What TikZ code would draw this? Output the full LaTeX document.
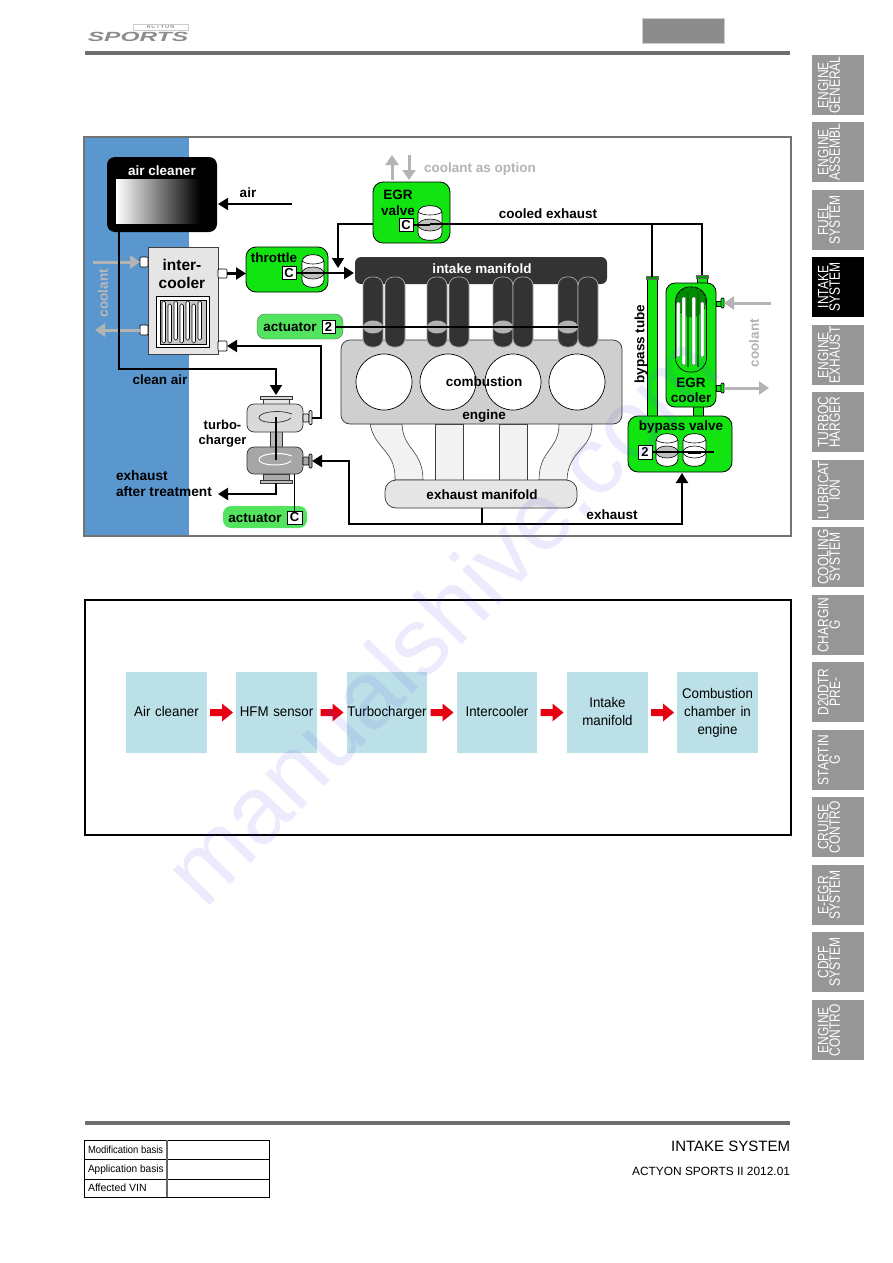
\documentclass[tikz,border=0pt]{standalone}
\usepackage{fontspec}
\setmainfont{Liberation Sans}
\newfontfamily\tabfont[FakeStretch=0.8]{Liberation Sans}
\newfontfamily\flowfont[FakeStretch=0.95]{Liberation Sans}
\usetikzlibrary{arrows.meta}
\definecolor{panelblue}{HTML}{5B97CF}
\definecolor{vivid}{HTML}{12E412}
\definecolor{softgreen}{HTML}{52E45E}
\definecolor{tabgray}{HTML}{969696}
\definecolor{flowbox}{HTML}{BBE0E7}
\definecolor{flowred}{HTML}{E60012}
\definecolor{barcol}{HTML}{6E6E6E}
\definecolor{optgray}{HTML}{B4B4B4}
\definecolor{dark}{HTML}{333333}
\definecolor{markblue}{HTML}{5050F0}
\tikzset{
  every node/.style={inner sep=0pt,outer sep=0pt},
  shell/.style={anchor=north west,draw=black,line width=0.8pt},
  lbl/.style={font=\fontsize{13.5}{15}\selectfont\bfseries,align=center},
  pipe/.style={line width=2pt,draw=black,-{Triangle[length=10pt,width=12pt]}},
  plainpipe/.style={line width=2pt,draw=black},
  cool/.style={line width=3pt,draw=optgray,-{Triangle[length=10pt,width=13pt]}},
  tag/.style={anchor=north west,draw=black,fill=white,line width=0.8pt,font=\fontsize{13}{13}\selectfont\bfseries},
  port/.style={anchor=north west,draw=black,fill=#1,line width=0.7pt,rounded corners=1pt},
  port/.default=white,
  tabbox/.style={anchor=north west,fill=tabgray,text=white,minimum width=52pt,minimum height=60pt,
    align=center,font=\tabfont\fontsize{15}{11.6}\selectfont},
  flow/.style={anchor=north west,fill=flowbox,minimum height=81pt,align=center,
    font=\flowfont\fontsize{14}{18}\selectfont},
  redarrow/.style={fill=flowred,draw=none},
  cellline/.style={draw=black,line width=0.9pt},
  tablelbl/.style={anchor=west,font=\fontsize{10.5}{12}\selectfont}
}
% A box given by its two opposite corners
\newcommand{\cornerbox}[7][]{%
  \pgfmathsetmacro{\bw}{#5-#3}\pgfmathsetmacro{\bh}{#6-#4}%
  \node[minimum width=\bw pt,minimum height=\bh pt,#1] (#2) at (#3,#4) {#7};}
% A flap valve housing: cylinder with a grey disc just below half height
\newcommand{\valvecyl}[6][gray!50]{%
  \pgfmathsetmacro{\cx}{(#3+#5)/2}\pgfmathsetmacro{\cy}{(#4+#6)/2+2.5}%
  \pgfmathsetmacro{\rx}{(#5-#3)/2}%
  \filldraw[fill=white,draw=black,line width=0.7pt,rounded corners=5pt]
     (#3,#4+3) -- (#3,#6-2) -- (\cx,#6+1) -- (#5,#6-2) -- (#5,#4+3) -- (\cx,#4) -- cycle;
  \draw[line width=0.6pt] (#3,#4+7) .. controls (#3+5,#4+11) and (#5-5,#4+11) .. (#5,#4+7);
  \filldraw[fill=#1,draw=black,line width=0.6pt] (\cx,\cy) ellipse ({\rx} and 6);
  \node[minimum width=2pt,minimum height=2pt] (#2) at (\cx,\cy) {};}

\begin{document}
\begin{tikzpicture}[x=1pt,y=-1pt]
\useasboundingbox (0,0) rectangle (893,1263);
\fill[white] (0,0) rectangle (893,1263);

% ---- page header
\fill[barcol] (85,51) rectangle (790,55);
\node[anchor=center,text=gray!85,font=\fontsize{5.5}{6}\selectfont\bfseries] (brandtop) at (160.5,26.5) {A\,C\,T\,Y\,O\,N};
\draw[gray!40,line width=0.5pt] (133,24) rectangle (188,30);
\node[anchor=center,text=gray!90,font=\fontsize{14}{14}\selectfont\bfseries\itshape] (brand) at (138,36.5) {\scalebox{1.75}[0.95]{SPORTS}};
\filldraw[fill=gray!90,draw=gray!40,line width=0.8pt] (642,18) rectangle (724,43);

% ---- side tabs
\foreach \yy/\txt in {55/{ENGINE\\GENERAL},122/{ENGINE\\ASSEMBL},190/{FUEL\\SYSTEM},
   325/{ENGINE\\EXHAUST},392/{TURBOC\\HARGER},460/{LUBRICAT\\ION},527/{COOLING\\SYSTEM},
   595/{CHARGIN\\G},662/{D20DTR\\PRE-},730/{STARTIN\\G},797/{CRUISE\\CONTRO},
   865/{E-EGR\\SYSTEM},932/{CDPF\\SYSTEM},1000/{ENGINE\\CONTRO}}{
  \node[tabbox] (tab\yy) at (812,\yy) {};
  \node[rotate=90,text=white,align=center,font=\tabfont\fontsize{15}{11.6}\selectfont] (tabtext\yy) at (829,\yy+30) {\txt};
}
\node[tabbox,fill=black] (tab257) at (812,257) {};
\node[rotate=90,text=white,align=center,font=\tabfont\fontsize{15}{11.6}\selectfont] (tabtext257) at (829,287) {INTAKE\\SYSTEM};

% ---- schematic frame and panel
\fill[panelblue] (84,137) rectangle (188.5,536);
\draw[gray!90!black,line width=1.2pt] (84,137) rectangle (791,536);

% ---- engine block and exhaust runners
\filldraw[fill=gray!10,draw=black!75,line width=0.6pt]
  (370,424) .. controls (375,450) and (396,450) .. (395,480) -- (423,480) .. controls (423,450) and (403,450) .. (402,424) -- cycle;
\filldraw[fill=gray!10,draw=black!75,line width=0.6pt] (435,424) rectangle (463,480);
\filldraw[fill=gray!10,draw=black!75,line width=0.6pt] (499,424) rectangle (527,480);
\filldraw[fill=gray!10,draw=black!75,line width=0.6pt]
  (559,424) .. controls (559,450) and (539,450) .. (539,480) -- (567,480) .. controls (568,450) and (592,450) .. (592,424) -- cycle;
\cornerbox[anchor=north west,draw=black!80,fill=gray!38,line width=0.7pt,rounded corners=9pt]{engine}{341}{340}{622}{424}{}
\foreach \cxx in {384,448,513,577}{
  \filldraw[fill=white,draw=black,line width=0.7pt] (\cxx,382) circle (28);
}
\node[lbl] (combustion) at (484,382) {combustion};
\node[lbl] (enginelbl) at (484,416) {engine};
\cornerbox[anchor=north west,draw=black!80,fill=gray!20,line width=0.7pt,rounded corners=11pt]{exhmanifold}{385}{480}{577}{508}{}
\node[lbl] (exhmanifoldlbl) at (482,495) {exhaust manifold};

% ---- intake manifold and its runners
\cornerbox[anchor=north west,fill=dark,rounded corners=6pt]{inmanifold}{355}{257}{607}{284}{}
\foreach \xa in {363,385,427,449,493,513,558,578}{
  \pgfmathsetmacro{\xb}{\xa+20}
  \filldraw[fill=dark,draw=gray!70,line width=0.7pt,rounded corners=8.5pt] (\xa,347) rectangle (\xb,277);
}
\foreach \xa in {373,437,503,568}{
  \fill[gray!60] (\xa,327) ellipse (10 and 6.5);
}
\node[lbl,text=white] (inmanifoldlbl) at (482,269) {intake manifold};

% ---- air cleaner
\cornerbox[anchor=north west,fill=black,rounded corners=8pt]{aircleaner}{107}{157}{217}{232}{}
\fill[left color=white,right color=black] (116,179) rectangle (200,223);
\node[lbl,text=white] (aircleanerlbl) at (162,171) {air cleaner};
\node[lbl] (airlbl) at (248,193) {air};
\coordinate (airin) at (292,204);

% ---- intercooler
\cornerbox[anchor=north west,draw=black!75,fill=gray!20,line width=0.7pt]{intercooler}{148}{247}{218}{354}{}
\node[font=\fontsize{15.5}{17.5}\selectfont\bfseries,align=center] (intercoolerlbl) at (182,274) {inter-\\cooler};
\filldraw[fill=white,draw=black,line width=0.6pt] (156,296) rectangle (209,347);
\filldraw[fill=gray!45,draw=black,line width=0.6pt] (160,300) rectangle (206,344);
\foreach \xa/\ya/\yb in {162/301/343,168/304/343,174/301/340,180/304/343,186/301/340,192/304/343,198/301/340}{
  \filldraw[fill=white,draw=black,line width=0.55pt,rounded corners=1.5pt] (\xa,\ya) rectangle (\xa+3.5,\yb);
}
\node[port,minimum width=8pt,minimum height=10pt] (cooltop) at (140,257) {};
\node[port,minimum width=8pt,minimum height=10pt] (coolbot) at (140,325) {};
\node[port,minimum width=9pt,minimum height=9pt] (coolout) at (218,269) {};
\node[port,minimum width=9pt,minimum height=10pt] (coolin) at (218,341) {};
\coordinate (coolsrc) at (93,262);
\coordinate (coolsink) at (95,330);
\draw[cool] (coolsrc) -- (cooltop.west);
\draw[cool] (coolbot.west) -- (coolsink);
\node[rotate=90,lbl,text=gray!55] (coolantleft) at (103,293) {coolant};

% ---- throttle
\cornerbox[anchor=north west,draw=black,fill=vivid,rounded corners=10pt,line width=0.8pt]{throttle}{246}{247}{328}{292}{}
\node[lbl] (throttlelbl) at (274,258) {throttle};
\valvecyl{thvalve}{302}{254}{324}{287}
\node[tag,minimum width=14pt,minimum height=13pt] (thc) at (282,266.5) {C};

% ---- EGR valve
\cornerbox[anchor=north west,draw=black,fill=vivid,rounded corners=10pt,line width=0.8pt]{egrvalve}{373}{182}{450}{243}{}
\node[font=\fontsize{13.5}{15.5}\selectfont\bfseries,align=center] (egrvalvelbl) at (398,203) {EGR\\valve};
\valvecyl{egrflap}{418}{205}{442}{240}
\node[tag,minimum width=14pt,minimum height=13pt] (egrc) at (399,218.5) {C};
\coordinate (optup) at (392,155);
\coordinate (optupfoot) at (392,180);
\coordinate (optdn) at (409,155);
\coordinate (optdnend) at (409,180);
\draw[cool] (optupfoot) -- (optup);
\draw[cool] (optdn) -- (optdnend);
\node[anchor=west,lbl,text=optgray] (optlbl) at (424,169) {coolant as option};

% ---- actuator at the swirl flaps
\cornerbox[anchor=north west,draw=black!60,fill=softgreen,rounded corners=8pt,line width=0.4pt]{actswirl}{257}{314}{343}{339}{}
\node[lbl] (actswirllbl) at (290,327) {actuator};
\node[tag,minimum width=13pt,minimum height=13pt] (act2) at (322,320.5) {2};
\coordinate (swirlend) at (578,327);
\draw[line width=1.5pt] (act2.east) -- (swirlend);

% ---- turbocharger
\cornerbox[anchor=north west,draw=black!80,fill=gray!55,line width=0.6pt]{shaft}{270}{430}{282}{449}{}
\filldraw[fill=gray!20,draw=black!80,line width=0.6pt] (263,396) rectangle (289,404);
\filldraw[fill=gray!30,draw=black!80,line width=0.6pt] (260,396) rectangle (292,399);
\filldraw[fill=gray!65,draw=black!80,line width=0.6pt] (263,474) rectangle (289,481);
\filldraw[fill=gray!50,draw=black!80,line width=0.6pt] (260,480) rectangle (292,483);
\cornerbox[anchor=north west,draw=black!80,fill=gray!30,rounded corners=7pt,line width=0.7pt]{compressor}{247}{404}{303}{432}{}
\cornerbox[anchor=north west,draw=black!80,fill=gray!70,rounded corners=7pt,line width=0.7pt]{turbine}{247}{447}{303}{474}{}
\draw[black!80,line width=0.7pt] (292,414) .. controls (280,409) and (258,412) .. (259,418) .. controls (260,424) and (285,424) .. (291,418);
\draw[white,line width=1pt] (292,456) .. controls (280,451) and (258,454) .. (259,460) .. controls (260,466) and (285,467) .. (291,461);
\coordinate (shafttop) at (276,417);
\coordinate (shaftend) at (276,460);
\draw[line width=1.2pt] (shafttop) -- (shaftend);
\filldraw[fill=gray!30,draw=black,line width=0.6pt,rounded corners=1pt] (303,414) rectangle (309,422);
\node[port=gray!30,minimum width=3pt,minimum height=14pt] (compout) at (309,410.5) {};
\filldraw[fill=gray!70,draw=black,line width=0.6pt,rounded corners=1pt] (303,457) rectangle (309,465);
\node[port=gray!70,minimum width=3pt,minimum height=14pt] (turbin) at (309,454) {};
\node[font=\fontsize{13}{15}\selectfont\bfseries,align=center] (turbolbl) at (222.5,433.5) {turbo-\\charger};
\node[anchor=north west,font=\fontsize{13.7}{16}\selectfont\bfseries,align=left] (aftertreat) at (116,471) {exhaust\\after treatment};
\node[lbl] (cleanlbl) at (160,380) {clean air};
\cornerbox[anchor=north west,fill=softgreen,rounded corners=8pt]{actwaste}{223}{506}{307}{528}{}
\node[lbl] (actwastelbl) at (255,518) {actuator};
\node[tag,minimum width=15pt,minimum height=13pt] (actc) at (287,511) {C};
\coordinate (wastetop) at (294,474);
\draw[line width=1pt] (wastetop) -- (wastetop |- actc.north);

% ---- bypass tube, EGR cooler, bypass valve
\cornerbox[anchor=north west,draw=black,fill=vivid,line width=0.8pt]{bypasstube}{647}{278}{657}{416}{}
\filldraw[fill=green!60!black,draw=black!60,line width=0.4pt] (646,276) rectangle (658,279);
\filldraw[fill=vivid,draw=black,line width=0.6pt] (697,278) rectangle (707,284);
\filldraw[fill=green!60!black,draw=black!60,line width=0.4pt] (696,275) rectangle (708,278);
\filldraw[fill=vivid,draw=black,line width=0.6pt] (693,406) rectangle (703,417);
\cornerbox[anchor=north west,draw=black,fill=vivid,rounded corners=9pt,line width=0.8pt]{egrcooler}{666}{283}{716}{407}{}
% tube bundle: shell, header plate and tubes
\filldraw[fill=vivid,draw=black,line width=0.7pt,rounded corners=14pt] (675.5,287) rectangle (706.5,372);
\filldraw[fill=green!55!black,draw=black,densely dashed,line width=0.5pt] (691,302) circle (15);
\foreach \xa/\ya/\yb in {676.5/302/357,682/297/365,692/297/365,700.5/302/357}{
  \filldraw[fill=white,draw=black!70,line width=0.4pt,rounded corners=1pt] (\xa,\ya) rectangle (\xa+3.5,\yb);
}
\foreach \xa in {687,697}{
  \fill[green!45!black] (\xa,292) rectangle (\xa+2,367);
}
\node[font=\fontsize{13.5}{15.5}\selectfont\bfseries,align=center] (egrcoolerlbl) at (691,390.5) {EGR\\cooler};
\filldraw[fill=vivid,draw=black,line width=0.6pt] (716,301) rectangle (722,306);
\node[port=vivid,minimum width=3pt,minimum height=10pt] (egrwaterin) at (721,298) {};
\filldraw[fill=vivid,draw=black,line width=0.6pt] (716,385) rectangle (722,391);
\node[port=vivid,minimum width=3pt,minimum height=10pt] (egrwaterout) at (721,383) {};
\coordinate (watersrc) at (771,303);
\coordinate (watersink) at (769,388);
\draw[cool] (watersrc) -- (egrwaterin.east);
\draw[cool] (egrwaterout.east) -- (watersink);
\node[rotate=90,lbl,text=optgray] (coolantright) at (754,343) {coolant};
\node[rotate=90,lbl] (bypasslbl) at (641,344) {bypass tube};
\cornerbox[anchor=north west,draw=black,fill=vivid,rounded corners=10pt,line width=0.8pt]{bypassvalve}{628}{416}{732}{472}{}
\node[lbl] (bypassvalvelbl) at (681,427) {bypass valve};
\valvecyl{bpa}{656}{433}{678}{466}
\valvecyl[white]{bpb}{683}{433}{706}{466}
\node[tag,minimum width=14pt,minimum height=14pt] (bp2) at (638,445) {2};
\coordinate (bpend) at (714,452);
\draw[line width=1.5pt] (bp2.east) -- (bpend);
\draw[line width=3pt] (688,452) -- (701,452);

% ---- flow connections
\coordinate (cabin) at (119,369);
\draw[pipe] (airin) -- (218,204);
\draw[pipe] (119,232) -- (cabin) -- (276,369) -- (276,395);
\draw[pipe] (compout.east) -- (compout.east -| 321,0) -- (321,346) -- (coolin.east);
\draw[pipe,line width=2.4pt] (coolout.east) -- (246,273.5);
\draw[line width=1.5pt] (thc.east) -- (thvalve.center);
\coordinate (thrend) at (354,273);
\draw[pipe,line width=2.6pt] (thvalve.center) -- (thrend);
\draw[pipe] (egrvalve.west |- 0,224) -- (338,224) -- (338,268);
\draw[line width=1.5pt] (egrc.east) -- (egrflap.center);
\coordinate (bypassjoin) at (652,224);
\draw[plainpipe] (egrflap.center |- bypassjoin) -- (bypassjoin) -- (702,224) -- (702,275);
\draw[plainpipe] (bypassjoin) -- (652,277);
\node[lbl] (cooledlbl) at (548,214) {cooled exhaust};
\coordinate (exhsplit) at (482,524);
\draw[plainpipe] (exhmanifold.south -| exhsplit) -- (exhsplit);
\draw[pipe] (exhsplit) -- (349,524) -- (turbin.east -| 349,0) -- (turbin.east);
\draw[pipe] (exhsplit) -- (682,524) -- (682,473);
\node[lbl] (exhaustlbl) at (612,515) {exhaust};
\draw[pipe] (276,483) -- (276,494) -- (218,494);

% ---- charge air path as blocks
\draw[black,line width=1.3pt] (85,600) rectangle (791,835);
\foreach \nm/\xx/\ww/\txt in {b1/126/81/{\strut Air cleaner},b2/236/81/{\strut HFM sensor},b3/347/80/{\strut Turbocharger},
   b4/457/80/{\strut Intercooler},b5/567/81/{\strut Intake\\\strut manifold},b6/677/81/{\strut Combustion\\\strut chamber in\\\strut engine}}{
  \node[flow,minimum width=\ww pt,text width=\ww pt] (\nm) at (\xx,672) {\txt};
}
\foreach \aa/\bb in {b1/b2,b2/b3,b3/b4,b4/b5,b5/b6}{
  \path (\aa.east) -- (\bb.west) coordinate[pos=0.5] (mid\aa);
  \fill[redarrow] ([shift={(-11.5,-3.5)}]mid\aa) -- ++(12,0) -- ++(0,-5.5) -- ++(11,9) -- ++(-11,9) -- ++(0,-5.5) -- ++(-12,0) -- cycle;
}

% ---- page footer
\fill[barcol] (85,1121) rectangle (790,1125);
\node[anchor=east,font=\fontsize{15}{17}\selectfont] (foottitle) at (790,1146) {INTAKE SYSTEM};
\node[anchor=east,font=\fontsize{11.9}{13}\selectfont] (footsub) at (790,1171) {ACTYON SPORTS II 2012.01};
\draw[cellline] (84,1140) rectangle (269,1197);
\draw[cellline] (84,1159) -- (269,1159);
\draw[cellline] (84,1179) -- (269,1179);
\draw[gray!80!black,line width=1.6pt] (167,1140) -- (167,1197);
\node[tablelbl] (mod) at (88,1150) {\scalebox{0.9}[1]{Modification basis}};
\node[tablelbl] (app) at (88,1170) {\scalebox{0.96}[1]{Application basis}};
\node[tablelbl] (vin) at (88,1188) {Affected VIN};

% ---- site mark across the page
\node[anchor=base west,rotate=46,text=markblue,text opacity=0.11,font=\fontsize{96}{96}\selectfont] (sitemark) at (205,910) {manualshive.com};
\end{tikzpicture}
\end{document}
